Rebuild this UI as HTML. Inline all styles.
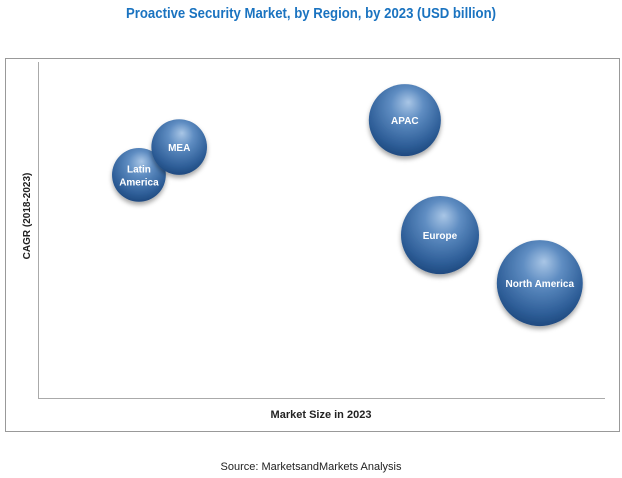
<!DOCTYPE html>
<html><head><meta charset="utf-8"><style>
body{margin:0;background:#fff;width:622px;height:478px;overflow:hidden;font-family:"Liberation Sans",sans-serif}
svg{display:block}
</style></head><body>
<svg id="chart" width="622" height="478">
<defs>
<radialGradient id="g" cx="0.5" cy="0.35" r="0.65" fx="0.55" fy="0.25">
<stop offset="0" stop-color="#a9c6e6"/>
<stop offset="0.35" stop-color="#5f8dc2"/>
<stop offset="0.8" stop-color="#2f5f99"/>
<stop offset="1" stop-color="#1f4a80"/>
</radialGradient>
<filter id="sh" x="-30%" y="-30%" width="160%" height="160%"><feDropShadow dx="0" dy="3" stdDeviation="2.5" flood-color="#000" flood-opacity="0.35"/></filter>
</defs>
<text x="311" y="18" text-anchor="middle" font-size="14.5" font-weight="bold" fill="#1a73c0" textLength="370" lengthAdjust="spacingAndGlyphs">Proactive Security Market, by Region, by 2023 (USD billion)</text>
<rect x="5.5" y="58.5" width="614" height="373" fill="none" stroke="#999"/>
<line x1="38.5" y1="62" x2="38.5" y2="398.5" stroke="#aaa"/>
<line x1="38" y1="398.5" x2="605" y2="398.5" stroke="#aaa"/>
<text x="321" y="418" text-anchor="middle" font-size="11" font-weight="bold" fill="#222">Market Size in 2023</text>
<text transform="translate(30,216) rotate(-90)" text-anchor="middle" font-size="10" font-weight="bold" fill="#222">CAGR (2018-2023)</text>
<text x="311" y="470" text-anchor="middle" font-size="11" fill="#222">Source: MarketsandMarkets Analysis</text>
<g id="bubbles"></g>
</svg>
<script>
const regions=["Latin America","MEA","APAC","Europe","North America"];
const marketX=[17.8,24.9,64.7,70.9,88.5];
const cagrY=[66.4,74.7,82.7,48.5,34.2];
const sizes=[2.9,3.1,5.2,6.1,7.4];
const xs=v=>38+v/100*567, ys=v=>398-v/100*336, rs=v=>15.8*Math.sqrt(v);
const g=document.getElementById('bubbles'),NS="http://www.w3.org/2000/svg";
regions.forEach((name,i)=>{
 const cx=xs(marketX[i]),cy=ys(cagrY[i]),r=rs(sizes[i]);
 const c=document.createElementNS(NS,'circle');
 c.setAttribute('cx',cx);c.setAttribute('cy',cy);c.setAttribute('r',r);
 c.setAttribute('fill','url(#g)');c.setAttribute('filter','url(#sh)');
 
 
 g.appendChild(c);
 const parts=(name==="Latin America")?["Latin","America"]:[name];
 parts.forEach((p,j)=>{
  const t=document.createElementNS(NS,'text');
  t.setAttribute('x',cx);t.setAttribute('y',cy+4+(j-(parts.length-1)/2)*13);
  t.setAttribute('text-anchor','middle');t.setAttribute('font-size','10');
  t.setAttribute('font-weight','bold');t.setAttribute('fill','#fff');
  
  
  t.textContent=p;g.appendChild(t);
 });
});
</script>
</body></html>
